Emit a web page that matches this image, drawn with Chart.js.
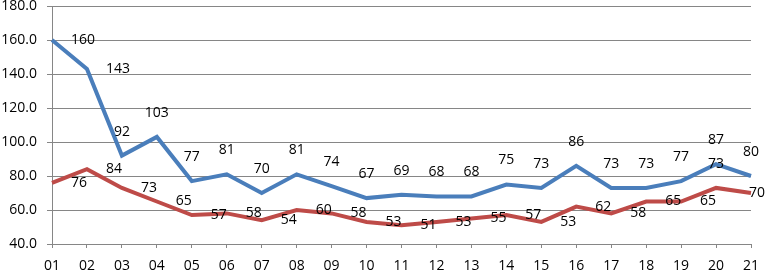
<!DOCTYPE html>
<html>
<head>
<meta charset="utf-8">
<script src="https://cdn.jsdelivr.net/npm/chart.js@4/dist/chart.umd.min.js"></script>
<style>
  body { margin: 0; background: #fff; }
  canvas { display: block; }
</style>
</head>
<body>
<canvas id="line-chart" width="766" height="271"></canvas>
<script>
const labels = ['01','02','03','04','05','06','07','08','09','10','11','12','13','14','15','16','17','18','19','20','21'];
const blueValues = [160,143,92,103,77,81,70,81,74,67,69,68,68,75,73,86,73,73,77,87,80];
const redValues = [76,84,73,65,57,58,54,60,58,53,51,53,55,57,53,62,58,65,65,73,70];

// which value labels sit off their series' usual side
const blueRightIdx = [0, 1];
const redTopIdx = [19];

const fontFamily = '"Open Sans", "Liberation Sans", sans-serif';

let valueLabels = {
  id: 'valueLabels',
  afterDatasetsDraw: function(chart){
    let ctx = chart.ctx;
    ctx.save();
    ctx.font = '14px ' + fontFamily;
    ctx.fillStyle = '#000';
    ctx.textBaseline = 'middle';
    chart.data.datasets.forEach(function(ds, i){
      chart.getDatasetMeta(i).data.forEach(function(pt, j){
        let txt = String(ds.data[j]);
        let side = ds.labelSide;
        if (ds.labelSwap.indexOf(j) >= 0) side = side === 'top' ? 'right' : 'top';
        if (side === 'top') {
          ctx.textAlign = 'center';
          ctx.fillText(txt, pt.x, pt.y - 24);
        } else {
          let w = ctx.measureText(txt).width;
          let x = Math.min(pt.x + 19, chart.width - w - 1);
          ctx.textAlign = 'left';
          ctx.fillText(txt, x, pt.y);
        }
      });
    });
    ctx.restore();
  }
};

let lineData = {
  labels: labels,
  datasets: [
    {
      data: blueValues,
      borderColor: '#4a7ebb',
      borderWidth: 4,
      pointRadius: 0,
      tension: 0,
      fill: false,
      labelSide: 'top',
      labelSwap: blueRightIdx
    },
    {
      data: redValues,
      borderColor: '#be4b48',
      borderWidth: 4,
      pointRadius: 0,
      tension: 0,
      fill: false,
      labelSide: 'right',
      labelSwap: redTopIdx
    }
  ]
};

let lineOptions = {
  responsive: false,
  animation: false,
  layout: { padding: { top: 6, right: 15, left: 0, bottom: 0 } },
  plugins: { legend: { display: false }, tooltip: { enabled: false } },
  scales: {
    x: {
      offset: false,
      grid: { drawOnChartArea: false, color: '#868686', tickLength: 4 },
      border: { color: '#868686' },
      ticks: { color: '#000', font: { family: fontFamily, size: 14 }, padding: 10, maxRotation: 0, autoSkip: false },
      afterFit: function(scale){ scale.height = 27; scale.paddingLeft = 0; scale.paddingRight = 0; }
    },
    y: {
      min: 40,
      max: 180,
      grid: { color: '#868686', tickLength: 5 },
      border: { color: '#868686' },
      ticks: {
        stepSize: 20,
        color: '#000',
        padding: 10,
        font: { family: fontFamily, size: 14 },
        callback: function(v){ return v.toFixed(1); }
      },
      afterFit: function(scale){ scale.width = 52; scale.paddingTop = 0; scale.paddingBottom = 0; }
    }
  }
};

let ctx = document.getElementById('line-chart').getContext('2d');
new Chart(ctx, { type: 'line', data: lineData, options: lineOptions, plugins: [valueLabels] });
</script>
</body>
</html>
